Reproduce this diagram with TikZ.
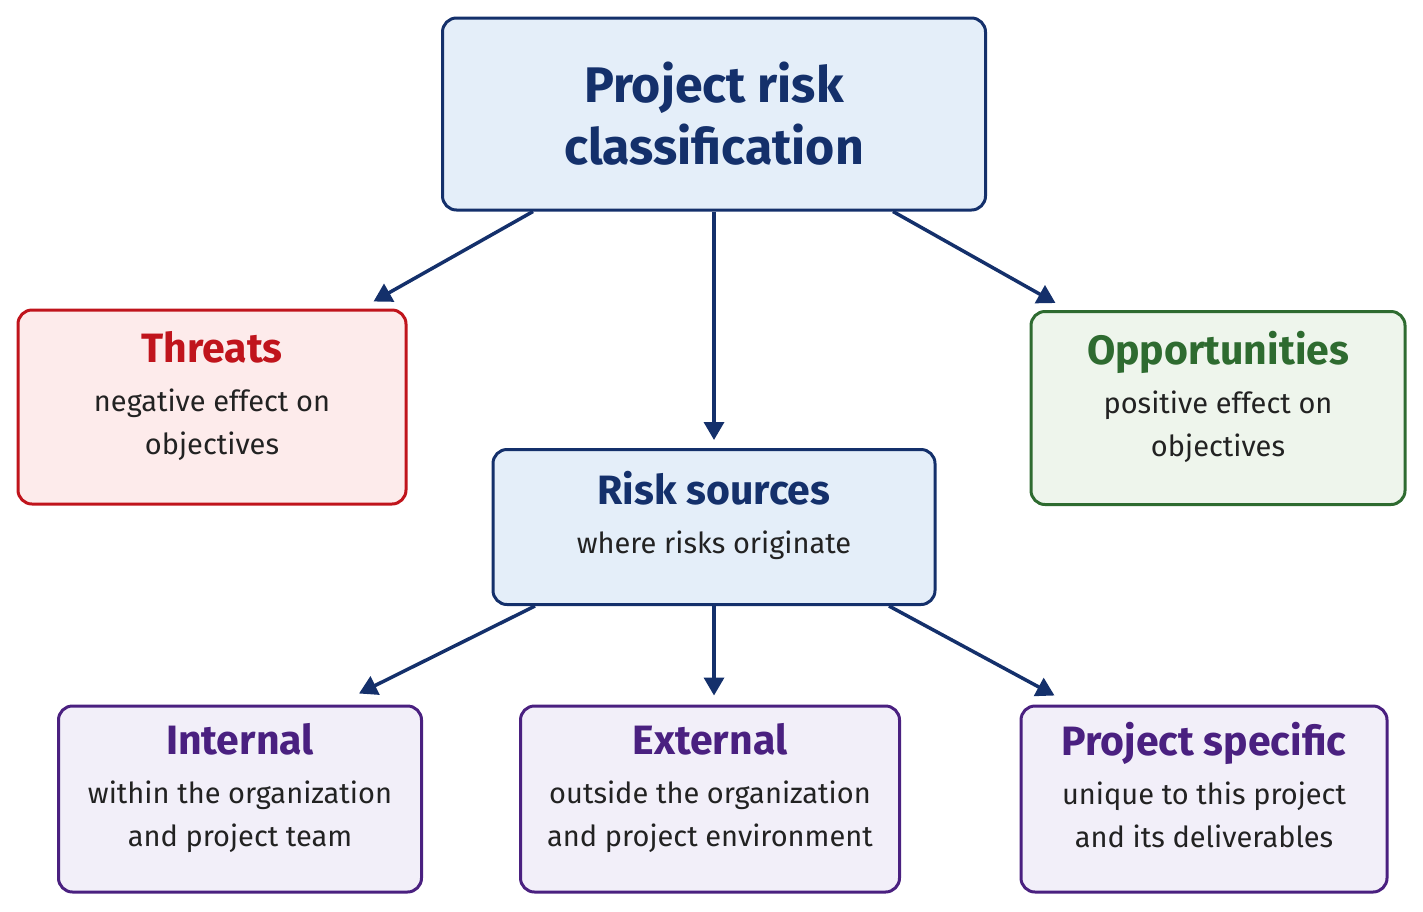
\documentclass[tikz,border=0pt]{standalone}
\usepackage{fontspec}
\setmainfont{Fira Sans}
\usetikzlibrary{calc,arrows.meta}
\definecolor{navy}{HTML}{14306B}
\definecolor{bluefill}{HTML}{E4EEF9}
\definecolor{redb}{HTML}{C0141C}
\definecolor{redfill}{HTML}{FDEBEB}
\definecolor{greenb}{HTML}{2E6B30}
\definecolor{greenfill}{HTML}{EEF5EC}
\definecolor{purb}{HTML}{4A2080}
\definecolor{purfill}{HTML}{F2EFF9}
\definecolor{body}{HTML}{222222}
\newcommand{\boxttl}[2]{\textcolor{#1}{\fontsize{41}{46}\selectfont\bfseries #2}}
\begin{document}
\begin{tikzpicture}[x=1pt,y=-1pt,
 box/.style={draw, line width=3pt, rounded corners=14pt, align=center, inner sep=0pt, text=body, font=\fontsize{29}{43}\selectfont},
 arr/.style={draw=navy, line width=3.5pt, -{Triangle[length=18pt,width=20pt]}}]
\useasboundingbox (0,0) rectangle (1423,911);
\node[box, draw=navy, fill=bluefill, minimum width=543, minimum height=192, text=navy, font=\fontsize{50}{62}\selectfont\bfseries] (top) at (714,114) {Project risk\\classification};
\node[box, draw=redb, fill=redfill, minimum width=388, minimum height=194] (thr) at (212,407)
 {\boxttl{redb}{Threats}\\[6pt]negative effect on\\objectives\\[-14pt]};
\node[box, draw=greenb, fill=greenfill, minimum width=374, minimum height=193] (opp) at (1218,408)
 {\boxttl{greenb}{Opportunities}\\[6pt]positive effect on\\objectives\\[-14pt]};
\node[box, draw=navy, fill=bluefill, minimum width=442, minimum height=155] (rs) at (714,527)
 {\boxttl{navy}{Risk sources}\\[6pt]where risks originate\\[-14pt]};
\node[box, draw=purb, fill=purfill, minimum width=363, minimum height=186] (int) at (240,799)
 {\boxttl{purb}{Internal}\\[6pt]within the organization\\and project team\\[-14pt]};
\node[box, draw=purb, fill=purfill, minimum width=379, minimum height=186] (ext) at (710,799)
 {\boxttl{purb}{External}\\[6pt]outside the organization\\and project environment\\[-14pt]};
\node[box, draw=purb, fill=purfill, minimum width=366, minimum height=186] (ps) at (1204,799)
 {\boxttl{purb}{Project specific}\\[6pt]unique to this project\\and its deliverables\\[-14pt]};
\path[arr] ($(top.south)+(-181,0)$) -- ($(thr.north east)+(-34,-7)$);
\path[arr] (top.south) -- ($(rs.north)+(0,-8)$);
\path[arr] ($(top.south)+(179,0)$) -- ($(opp.north west)+(26,-7)$);
\path[arr] ($(rs.south)+(-179,0)$) -- ($(int.north east)+(-64,-11)$);
\path[arr] (rs.south) -- ($(ext.north)+(4,-9)$);
\path[arr] ($(rs.south)+(175,0)$) -- ($(ps.north west)+(35,-9)$);
\end{tikzpicture}
\end{document}
